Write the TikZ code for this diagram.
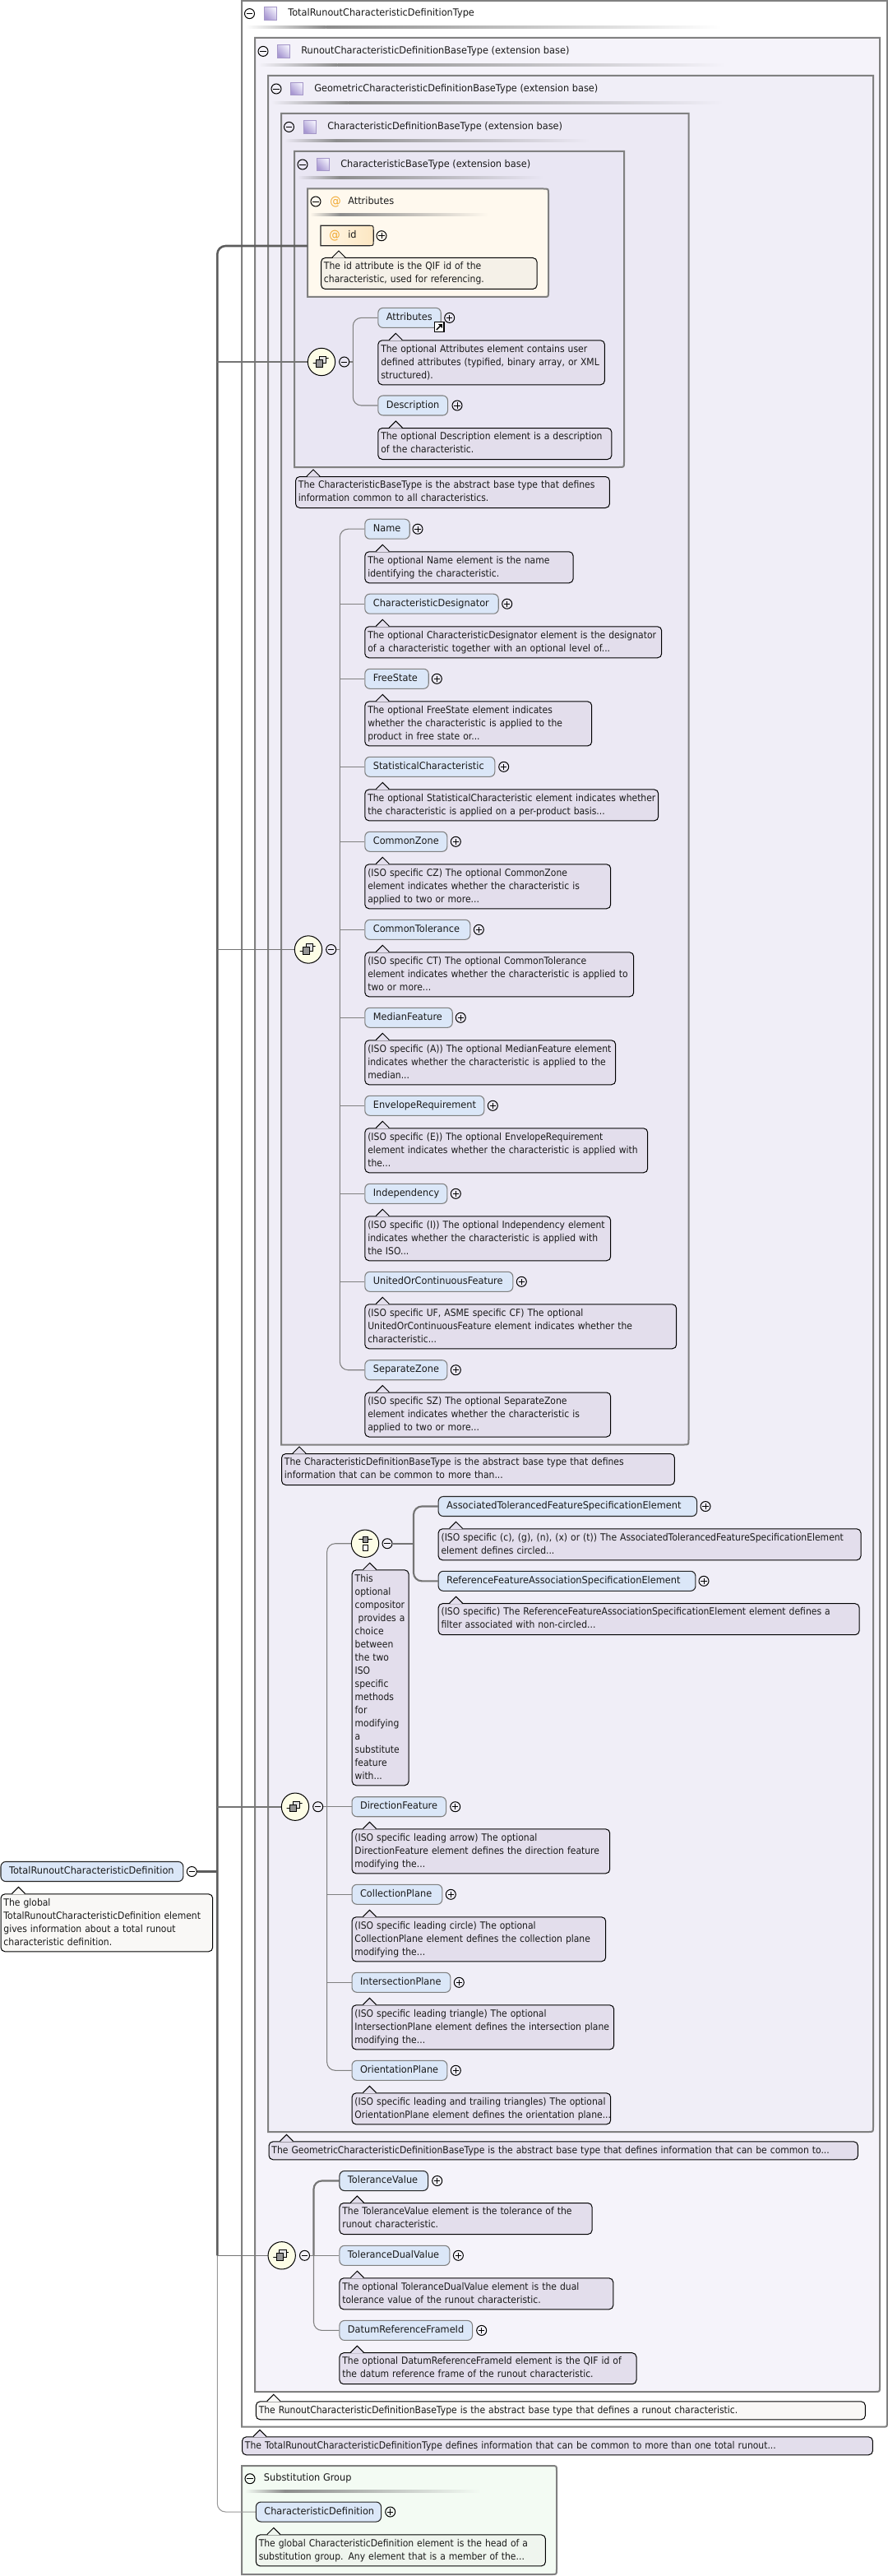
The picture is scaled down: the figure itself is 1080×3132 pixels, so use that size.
\documentclass[tikz,border=0pt]{standalone}
\usepackage{fontspec}
\setmainfont{DejaVu Sans}[FakeStretch=0.915]
\newfontfamily\docface{DejaVu Sans}[FakeStretch=0.9]
\newfontfamily\labelface{DejaVu Sans}[FakeStretch=0.945]
\usetikzlibrary{calc}
\definecolor{boxline}{HTML}{808080}
\definecolor{wireline}{HTML}{808080}
\definecolor{busline}{HTML}{5C5C5C}
\definecolor{elemfill}{HTML}{DBE7F8}
\definecolor{docfill}{HTML}{E3DEEC}
\definecolor{docwhite}{HTML}{F9F8F6}
\definecolor{docattr}{HTML}{F5F1E8}
\definecolor{docsubst}{HTML}{EFF5EE}
\definecolor{lvlb}{HTML}{F5F3FA}
\definecolor{lvlc}{HTML}{F0EEF7}
\definecolor{lvld}{HTML}{ECE9F4}
\definecolor{lvle}{HTML}{E9E6F3}
\definecolor{attrbg}{HTML}{FFF9EE}
\definecolor{substbg}{HTML}{F3FBF3}
\definecolor{compfill}{HTML}{FDFDE6}
\definecolor{atcolor}{HTML}{F0A830}
\definecolor{iconlight}{HTML}{F0EEFB}
\definecolor{icondark}{HTML}{A898D2}
\definecolor{iconedge}{HTML}{A597C8}
\definecolor{idlight}{HTML}{FFF6E6}
\definecolor{iddark}{HTML}{FDE7C2}
\pgfdeclarelayer{boxes}
\pgfdeclarelayer{wires}
\pgfsetlayers{boxes,wires,main}
\tikzset{
  x=0.75pt,y=-0.75pt,
  every node/.style={font=\docface\fontsize{9}{12}\selectfont,text=black!90},
  elembase/.style={rectangle,rounded corners=4.5pt,line width=.8pt,fill=elemfill,anchor=west,
    minimum height=18pt,inner ysep=0pt,inner xsep=7.5pt,align=left,font=\labelface\fontsize{9}{12}\selectfont},
  elemopt/.style={elembase,draw=boxline},
  elemreq/.style={elembase,draw=black!85},
  docbox/.style={rectangle,rounded corners=3.8pt,draw=black,line width=.75pt,anchor=north west,
    inner ysep=0pt,inner xsep=2.6pt,align=left},
  titletext/.style={anchor=west,inner sep=0pt,font=\labelface\fontsize{9}{12}\selectfont},
  boxedge/.style={draw=boxline,line width=1.5pt},
  wire/.style={draw=wireline,line width=.8pt,rounded corners=7.5pt},
  heavywire/.style={draw=busline!85,line width=1.6pt,rounded corners=7.5pt},
  bus/.style={draw=busline,line width=1.9pt,rounded corners=7.5pt},
  buslink/.style={draw=busline!85,line width=1.25pt},
  toggle/.style={circle,draw=black,line width=.75pt,minimum size=9pt,inner sep=0pt},
  minusbtn/.style={toggle,path picture={
    \draw[line width=.7pt]([xshift=-2.7pt]path picture bounding box.center)--([xshift=2.7pt]path picture bounding box.center);}},
  plusbtn/.style={toggle,path picture={
    \draw[line width=.7pt]([xshift=-2.7pt]path picture bounding box.center)--([xshift=2.7pt]path picture bounding box.center);
    \draw[line width=.7pt]([yshift=-2.7pt]path picture bounding box.center)--([yshift=2.7pt]path picture bounding box.center);}},
  typeicon/.style={rectangle,draw=iconedge,line width=.7pt,minimum size=11.5pt,inner sep=0pt,
    left color=iconlight,right color=icondark,shading angle=-45},
  seqnode/.style={circle,draw=black,line width=.75pt,fill=compfill,minimum size=25pt,inner sep=0pt,path picture={
    \begin{scope}[shift={(path picture bounding box.center)},line width=.6pt]
      \draw (-11.3,1.7)--(-6,1.7);
      \fill (-11.3,1.7) circle (1.1);
      \draw[fill=black!12] (-3,-6.7) rectangle (5.3,1.7);
      \draw[fill=black!42] (-6.3,-2.7) rectangle (1.7,6);
      \draw (5.3,-4.3)--(10,-4.3);
      \fill (8.5,-6.2)--(11.5,-4.3)--(8.5,-2.4)--cycle;
    \end{scope}}},
  choicenode/.style={circle,draw=black,line width=.75pt,fill=compfill,minimum size=25pt,inner sep=0pt,path picture={
    \begin{scope}[shift={(path picture bounding box.center)},line width=.6pt]
      \draw (-8.7,-5)--(9.7,-5);
      \fill (-8.7,-5) circle (1.2);
      \fill (9.7,-5) circle (1.2);
      \draw[fill=black!42] (-3,-8.3) rectangle (3.7,-1.7);
      \draw[fill=white] (-3,1.7) rectangle (3.7,8.3);
    \end{scope}}},
}
% one element: name, left, right, centre y, toggle x, style, label
\newcommand{\elem}[7]{%
  \node[#6,minimum width={(#3-#2)*0.75pt},text width={(#3-#2-20)*0.75pt}] (#1) at (#2,#4) {\mbox{\strut #7}};
  \node[plusbtn] (#1-plus) at (#5,#4) {};}
% one annotation: name, left, right, top, number of lines, fill, lines
\newcommand{\doc}[7]{%
  \node[docbox,fill=#6,minimum height={(16*#5+6)*0.75pt},text width={(#3-#2-7)*0.75pt}] (#1) at (#2,#4) {#7};
  \fill[#6] ([shift={(14.5,0.7)}]#1.north west)--([shift={(22,-7.4)}]#1.north west)--([shift={(29.5,0.7)}]#1.north west)--cycle;
  \draw[line width=.75pt,black] ([shift={(14,0)}]#1.north west)--([shift={(22,-8)}]#1.north west)--([shift={(30,0)}]#1.north west);}
\newcommand{\li}[1]{\mbox{\strut #1}}
% container with the lower right corner rounded
\newcommand{\panel}[5]{%
  \filldraw[boxedge,fill=#5] (#1,#2)--(#3,#2)--(#3,#4-6) .. controls (#3,#4) .. (#3-6,#4)--(#1,#4)--cycle;}
% container with both right corners rounded
\newcommand{\panelr}[5]{%
  \filldraw[boxedge,fill=#5] (#1,#2)--(#3-6,#2) .. controls (#3,#2) .. (#3,#2+6)--(#3,#4-6) .. controls (#3,#4) .. (#3-6,#4)--(#1,#4)--cycle;}
% fading rule under a container title: from, to, y, background
\newcommand{\rulebar}[4]{%
  \shade[left color=#4,right color=black!45] (#1,#3-1.5) rectangle ({#1+0.17*(#2-#1)},#3+1.5);
  \shade[left color=black!45,right color=#4] ({#1+0.17*(#2-#1)},#3-1.5) rectangle (#2,#3+1.5);}
\begin{document}
\begin{tikzpicture}
\useasboundingbox (0,0) rectangle (1080,3132);
\begin{pgfonlayer}{boxes}
  \fill[white] (0,0) rectangle (1080,3132);
  \panel{294}{1}{1079}{2950.7}{white}
  \panel{310}{46}{1070}{2908}{lvlb}
  \panel{326}{92}{1062}{2592}{lvlc}
  \panel{342}{138}{837.5}{1756.5}{lvld}
  \panel{358}{184}{759}{568}{lvle}
  \panelr{374}{229.5}{667}{361}{attrbg}
  \panelr{294}{2998}{677}{3130}{substbg}
  \rulebar{298}{878}{33}{white}
  \rulebar{314}{883}{78.6}{lvlb}
  \rulebar{330}{880}{125}{lvlc}
  \rulebar{346}{717}{170.6}{lvld}
  \rulebar{362}{661}{216.5}{lvle}
  \rulebar{377}{594}{261}{attrbg}
  \rulebar{298}{585}{3029}{substbg}
\end{pgfonlayer}

% container headings
\node[minusbtn] (m-total) at (303.5,16.6) {};
\node[typeicon] (i-total) at (329,16.6) {};
\node[titletext] (t-total) at (350,16.6) {\strut TotalRunoutCharacteristicDefinitionType};
\node[minusbtn] (m-runout) at (320,62.4) {};
\node[typeicon] (i-runout) at (345,62.4) {};
\node[titletext] (t-runout) at (366,62.4) {\strut RunoutCharacteristicDefinitionBaseType (extension base)};
\node[minusbtn] (m-geo) at (336,108) {};
\node[typeicon] (i-geo) at (361,108) {};
\node[titletext] (t-geo) at (382,108) {\strut GeometricCharacteristicDefinitionBaseType (extension base)};
\node[minusbtn] (m-def) at (351.5,154.4) {};
\node[typeicon] (i-def) at (377,154.4) {};
\node[titletext] (t-def) at (398,154.4) {\strut CharacteristicDefinitionBaseType (extension base)};
\node[minusbtn] (m-base) at (368,200) {};
\node[typeicon] (i-base) at (393,200) {};
\node[titletext] (t-base) at (414,200) {\strut CharacteristicBaseType (extension base)};
\node[minusbtn] (m-attrs) at (384,245) {};
\node[titletext,text=atcolor,font=\fontsize{11}{12}\selectfont] (at-attrs) at (401,245.5) {@};
\node[titletext] (t-attrs) at (423,245) {\strut Attributes};
\node[minusbtn] (m-subst) at (304,3013.7) {};
\node[titletext] (t-subst) at (320.7,3013.7) {\strut Substitution Group};
\coordinate (attrs-edge) at (374,299);

% root element
\node[elemreq,minimum width={221.8*0.75pt},text width={201.8*0.75pt}] (root) at (0.5,2275.5) {\mbox{\strut TotalRunoutCharacteristicDefinition}};
\node[minusbtn] (m-root) at (233.3,2275.5) {};
\doc{root-doc}{0.5}{258.3}{2302.3}{4}{docwhite}{\li{The global}\\\li{TotalRunoutCharacteristicDefinition element}\\\li{gives information about a total runout}\\\li{characteristic definition.}}

% id attribute
\node[rectangle,left color=idlight,right color=iddark,minimum width={63.7*0.75pt},minimum height=18pt,inner sep=0pt,anchor=west] (id) at (390,286.5) {};
\draw[line width=.8pt,black!85] (id.north west)--([xshift=-4.5pt]id.north east) .. controls (id.north east) .. ([yshift=-4.5pt]id.north east)--([yshift=4.5pt]id.south east) .. controls (id.south east) .. ([xshift=-4.5pt]id.south east)--(id.south west)--cycle;
\node[titletext,text=atcolor,font=\fontsize{11}{12}\selectfont] (at-id) at (400,287) {@};
\node[titletext] (t-id) at (423,286.5) {\strut id};
\node[plusbtn] (id-plus) at (464,286.7) {};
\doc{id-doc}{390}{652.7}{313}{2}{docattr}{\li{The id attribute is the QIF id of the}\\\li{characteristic, used for referencing.}}

% first sequence: attributes and description
\node[seqnode] (seq-a) at (391,440) {};
\node[minusbtn] (m-a) at (418.7,440) {};
\coordinate (v-a) at (429.3,440);
\elem{attributes}{459.3}{535.7}{386.4}{546.7}{elemopt}{Attributes}
\draw[line width=.8pt,fill=white] (528.3,391.7) rectangle (540,403.3);
\draw[line width=1.1pt] (530.8,401)--(536.2,395.6);
\fill (533,394.2)--(537.8,394.2)--(537.8,399)--cycle;
\doc{attributes-doc}{459.3}{735}{413.3}{3}{docfill}{\li{The optional Attributes element contains user}\\\li{defined attributes (typified, binary array, or XML}\\\li{structured).}}
\elem{description}{459.3}{544}{493}{556}{elemopt}{Description}
\doc{description-doc}{459.3}{743.5}{520}{2}{docfill}{\li{The optional Description element is a description}\\\li{of the characteristic.}}
\doc{base-doc}{359}{741}{579}{2}{docfill}{\li{The CharacteristicBaseType is the abstract base type that defines}\\\li{information common to all characteristics.}}

% second sequence: characteristic definition members
\node[seqnode] (seq-b) at (375,1154.5) {};
\node[minusbtn] (m-b) at (402.7,1154.5) {};
\coordinate (v-b) at (413.3,1154.5);
\elem{name}{443.3}{497.7}{643.2}{508}{elemopt}{Name}
\doc{name-doc}{443.3}{696.7}{670.3}{2}{docfill}{\li{The optional Name element is the name}\\\li{identifying the characteristic.}}
\elem{designator}{443.3}{605.7}{734.2}{616.7}{elemopt}{CharacteristicDesignator}
\doc{designator-doc}{443.3}{804.3}{761.3}{2}{docfill}{\li{The optional CharacteristicDesignator element is the designator}\\\li{of a characteristic together with an optional level of...}}
\elem{freestate}{443.3}{520.7}{825.3}{531.3}{elemopt}{FreeState}
\doc{freestate-doc}{443.3}{719.3}{852.4}{3}{docfill}{\li{The optional FreeState element indicates}\\\li{whether the characteristic is applied to the}\\\li{product in free state or...}}
\elem{statistical}{443.3}{601.3}{932.3}{612.7}{elemopt}{StatisticalCharacteristic}
\doc{statistical-doc}{443.3}{800.3}{959.4}{2}{docfill}{\li{The optional StatisticalCharacteristic element indicates whether}\\\li{the characteristic is applied on a per-product basis...}}
\elem{commonzone}{443.3}{543.3}{1023.3}{554.3}{elemopt}{CommonZone}
\doc{commonzone-doc}{443.3}{742.3}{1050.3}{3}{docfill}{\li{(ISO specific CZ) The optional CommonZone}\\\li{element indicates whether the characteristic is}\\\li{applied to two or more...}}
\elem{commontol}{443.3}{571.3}{1130.3}{582.3}{elemopt}{CommonTolerance}
\doc{commontol-doc}{443.3}{770.3}{1157.3}{3}{docfill}{\li{(ISO specific CT) The optional CommonTolerance}\\\li{element indicates whether the characteristic is applied to}\\\li{two or more...}}
\elem{median}{443.3}{549.7}{1237.3}{560.3}{elemopt}{MedianFeature}
\doc{median-doc}{443.3}{748.3}{1264.3}{3}{docfill}{\li{(ISO specific (A)) The optional MedianFeature element}\\\li{indicates whether the characteristic is applied to the}\\\li{median...}}
\elem{envelope}{443.3}{588.3}{1344.3}{599.3}{elemopt}{EnvelopeRequirement}
\doc{envelope-doc}{443.3}{787.3}{1371.3}{3}{docfill}{\li{(ISO specific (E)) The optional EnvelopeRequirement}\\\li{element indicates whether the characteristic is applied with}\\\li{the...}}
\elem{independency}{443.3}{543.3}{1451.3}{554.3}{elemopt}{Independency}
\doc{independency-doc}{443.3}{742.3}{1478.3}{3}{docfill}{\li{(ISO specific (I)) The optional Independency element}\\\li{indicates whether the characteristic is applied with}\\\li{the ISO...}}
\elem{united}{443.3}{623.3}{1558.3}{634.3}{elemopt}{UnitedOrContinuousFeature}
\doc{united-doc}{443.3}{822.3}{1585.3}{3}{docfill}{\li{(ISO specific UF, ASME specific CF) The optional}\\\li{UnitedOrContinuousFeature element indicates whether the}\\\li{characteristic...}}
\elem{separate}{443.3}{543.3}{1665.7}{554.3}{elemopt}{SeparateZone}
\doc{separate-doc}{443.3}{742.3}{1692.5}{3}{docfill}{\li{(ISO specific SZ) The optional SeparateZone}\\\li{element indicates whether the characteristic is}\\\li{applied to two or more...}}
\doc{def-doc}{342}{820}{1767}{2}{docfill}{\li{The CharacteristicDefinitionBaseType is the abstract base type that defines}\\\li{information that can be common to more than...}}

% ISO specific choice
\node[choicenode] (choice) at (444,1876.7) {};
\node[minusbtn] (m-choice) at (471,1876.7) {};
\coordinate (v-choice) at (503,1876.7);
\elem{assoc}{532.6}{847}{1831.5}{858}{elemreq}{AssociatedTolerancedFeatureSpecificationElement}
\doc{assoc-doc}{532.6}{1046.6}{1858.3}{2}{docfill}{\li{(ISO specific (c), (g), (n), (x) or (t)) The AssociatedTolerancedFeatureSpecificationElement}\\\li{element defines circled...}}
\elem{reffeat}{532.6}{845.4}{1922.3}{856}{elemreq}{ReferenceFeatureAssociationSpecificationElement}
\doc{reffeat-doc}{532.6}{1044.7}{1949.2}{2}{docfill}{\li{(ISO specific) The ReferenceFeatureAssociationSpecificationElement element defines a}\\\li{filter associated with non-circled...}}
\doc{choice-doc}{427.7}{496.7}{1908.3}{16}{docfill}{\li{This}\\\li{optional}\\\li{compositor}\\\li{ provides a}\\\li{choice}\\\li{between}\\\li{the two}\\\li{ISO}\\\li{specific}\\\li{methods}\\\li{for}\\\li{modifying}\\\li{a}\\\li{substitute}\\\li{feature}\\\li{with...}}

% third sequence: modifier elements
\node[seqnode] (seq-c) at (359,2196.7) {};
\node[minusbtn] (m-c) at (386.7,2196.7) {};
\coordinate (v-c) at (397.7,2196.7);
\elem{direction}{427.5}{542}{2196.7}{553.7}{elemopt}{DirectionFeature}
\doc{direction-doc}{427.5}{741.3}{2223.3}{3}{docfill}{\li{(ISO specific leading arrow) The optional}\\\li{DirectionFeature element defines the direction feature}\\\li{modifying the...}}
\elem{collection}{427.5}{537.3}{2303.3}{548.3}{elemopt}{CollectionPlane}
\doc{collection-doc}{427.5}{736.3}{2330.3}{3}{docfill}{\li{(ISO specific leading circle) The optional}\\\li{CollectionPlane element defines the collection plane}\\\li{modifying the...}}
\elem{intersection}{427.5}{547.3}{2410.3}{558.3}{elemopt}{IntersectionPlane}
\doc{intersection-doc}{427.5}{746.3}{2437.3}{3}{docfill}{\li{(ISO specific leading triangle) The optional}\\\li{IntersectionPlane element defines the intersection plane}\\\li{modifying the...}}
\elem{orientation}{427.5}{543.3}{2517.3}{554.3}{elemopt}{OrientationPlane}
\doc{orientation-doc}{427.5}{742.3}{2544.3}{2}{docfill}{\li{(ISO specific leading and trailing triangles) The optional}\\\li{OrientationPlane element defines the orientation plane...}}
\doc{geo-doc}{326.5}{1043}{2603.3}{1}{docfill}{\li{The GeometricCharacteristicDefinitionBaseType is the abstract base type that defines information that can be common to...}}

% fourth sequence: tolerance values
\node[seqnode] (seq-d) at (342.7,2742.3) {};
\node[minusbtn] (m-d) at (370.5,2742.3) {};
\coordinate (v-d) at (381.5,2742.3);
\elem{tolval}{412.4}{520}{2651.5}{531.7}{elemreq}{ToleranceValue}
\doc{tolval-doc}{412.4}{719.7}{2678}{2}{docfill}{\li{The ToleranceValue element is the tolerance of the}\\\li{runout characteristic.}}
\elem{toldual}{412.4}{546.4}{2742.3}{557.4}{elemopt}{ToleranceDualValue}
\doc{toldual-doc}{412.4}{745.4}{2769.3}{2}{docfill}{\li{The optional ToleranceDualValue element is the dual}\\\li{tolerance value of the runout characteristic.}}
\elem{datum}{412.4}{574}{2833.4}{585.7}{elemopt}{DatumReferenceFrameId}
\doc{datum-doc}{412.4}{773.6}{2860.2}{2}{docfill}{\li{The optional DatumReferenceFrameId element is the QIF id of}\\\li{the datum reference frame of the runout characteristic.}}
\doc{runout-doc}{310.8}{1052}{2919.3}{1}{docwhite}{\li{The RunoutCharacteristicDefinitionBaseType is the abstract base type that defines a runout characteristic.}}
\doc{total-doc}{294}{1061}{2962.3}{1}{docfill}{\li{The TotalRunoutCharacteristicDefinitionType defines information that can be common to more than one total runout...}}

% substitution group member
\elem{chardef}{310.8}{463}{3054}{474.7}{elemreq}{CharacteristicDefinition}
\doc{chardef-doc}{310.8}{663}{3081.4}{2}{docsubst}{\li{The global CharacteristicDefinition element is the head of a}\\\li{substitution group. Any element that is a member of the...}}

% connectors
\coordinate (bus-root) at (264.3,2275.5);
\coordinate (bus-end) at (264.3,2742.3);
\begin{pgfonlayer}{wires}
  \draw[wire] (m-a.east)--(v-a);
  \draw[wire] (attributes.west) -| (v-a) |- (description.west);
  \draw[wire] (m-b.east)--(v-b);
  \draw[wire] (name.west) -| (v-b) |- (separate.west);
  \foreach \n in {designator,freestate,statistical,commonzone,commontol,median,envelope,independency,united}
    \draw[wire] (\n.west)--(\n.west -| v-b);
  \draw[heavywire] (m-choice.east)--(v-choice);
  \draw[heavywire] (assoc.west) -| (v-choice) |- (reffeat.west);
  \draw[wire] (choice.west) -| (v-c) |- (orientation.west);
  \draw[wire] (m-c.east)--(v-c);
  \foreach \n in {direction,collection,intersection}
    \draw[wire] (\n.west)--(\n.west -| v-c);
  \draw[wire] (m-d.east)--(toldual.west);
  \draw[wire] (v-d) |- (datum.west);
  \draw[heavywire] (tolval.west) -| (v-d);
  \draw[wire,draw=black!40] (bus-end) |- (chardef.west);
  \draw[bus] (attrs-edge) -| (bus-end);
  \draw[buslink] (bus-end)--(seq-d.west);
  \draw[buslink] (seq-a.west)--(seq-a.west -| bus-root);
  \draw[buslink] (seq-b.west)--(seq-b.west -| bus-root);
  \draw[buslink] (seq-c.west)--(seq-c.west -| bus-root);
  \draw[bus] (m-root.east)--(bus-root);
\end{pgfonlayer}
\end{tikzpicture}
\end{document}
